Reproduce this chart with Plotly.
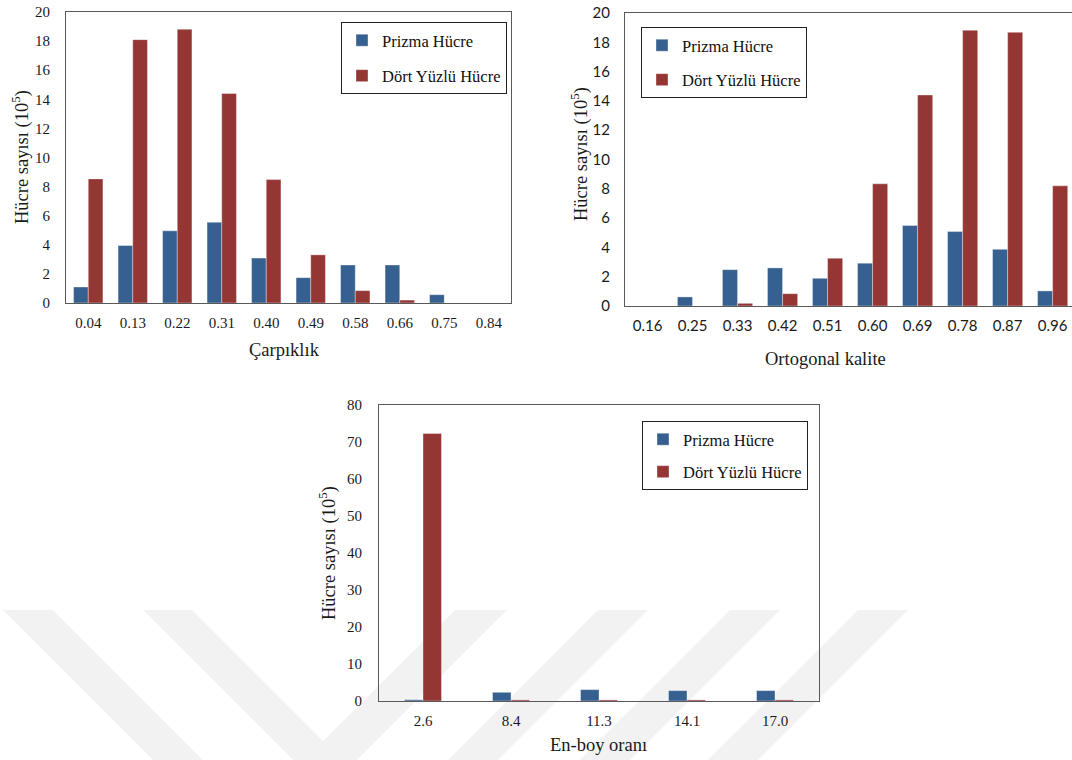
import plotly.graph_objects as go

# ---------------- data ----------------
carp_cats = ["0.04", "0.13", "0.22", "0.31", "0.40", "0.49", "0.58", "0.66", "0.75", "0.84"]
carp_prizma = [1.1, 3.95, 4.96, 5.55, 3.09, 1.74, 2.61, 2.61, 0.57, 0]
carp_dort = [8.53, 18.1, 18.81, 14.4, 8.48, 3.31, 0.85, 0.2, 0, 0]

orto_cats = ["0.16", "0.25", "0.33", "0.42", "0.51", "0.60", "0.69", "0.78", "0.87", "0.96"]
orto_prizma = [0, 0.62, 2.48, 2.6, 1.89, 2.92, 5.49, 5.08, 3.87, 1.03]
orto_dort = [0, 0, 0.18, 0.84, 3.26, 8.34, 14.4, 18.82, 18.68, 8.2]

enboy_cats = ["2.6", "8.4", "11.3", "14.1", "17.0"]
enboy_prizma = [0.35, 2.35, 3.07, 2.8, 2.8]
enboy_dort = [72.3, 0.3, 0.3, 0.3, 0.3]

series_names = ["Prizma Hücre", "Dört Yüzlü Hücre"]
y_title = "Hücre sayısı (10<sup>5</sup>)"
x_titles = ["Çarpıklık", "Ortogonal kalite", "En-boy oranı"]

# ---------------- styling ----------------
W, H = 1072, 760
BLUE = "#36608f"
RED = "#943634"
SERIF = "Liberation Serif"
SANS = "Lato"
LINE = "#595959"
TXT = "#1a1a1a"


def px(x):
    return x / W


def py(y):
    return 1 - y / H


fig = go.Figure()

charts = [
    dict(cats=carp_cats, a=carp_prizma, b=carp_dort, xa="x", ya="y", lg="legend", w=0.33),
    dict(cats=orto_cats, a=orto_prizma, b=orto_dort, xa="x2", ya="y2", lg="legend2", w=0.335),
    dict(cats=enboy_cats, a=enboy_prizma, b=enboy_dort, xa="x3", ya="y3", lg="legend3", w=0.21),
]

for i, c in enumerate(charts):
    for j, (vals, col, off) in enumerate(((c["a"], BLUE, -c["w"]), (c["b"], RED, 0))):
        fig.add_trace(go.Bar(
            x=c["cats"], y=vals, name=series_names[j],
            marker=dict(color=col, line=dict(color="rgba(255,255,255,0.45)", width=0.8)),
            width=c["w"], offset=off,
            xaxis=c["xa"], yaxis=c["ya"], legend=c["lg"],
            legendgroup=f"g{i}{j}", showlegend=True,
        ))

axis_common = dict(showline=True, linecolor=LINE, linewidth=1, showgrid=False,
                   zeroline=False, ticks="", automargin=False)

fig.update_layout(
    template="none",
    width=W, height=H,
    margin=dict(l=0, r=0, t=0, b=0),
    paper_bgcolor="white", plot_bgcolor="rgba(0,0,0,0)",
    barmode="overlay",
    font=dict(family=SERIF, color=TXT, size=15),
    # chart 1
    xaxis=dict(domain=[px(66), px(511)], anchor="y", type="category", range=[-0.5, 9.5],
               mirror=True, tickfont=dict(family=SERIF, size=15, color=TXT), ticklabelstandoff=6,
               **axis_common),
    yaxis=dict(domain=[py(303), py(12)], anchor="x", range=[0, 20], dtick=2,
               mirror=True, tickfont=dict(family=SERIF, size=15, color=TXT), ticklabelstandoff=12,
               **axis_common),
    # chart 2
    xaxis2=dict(domain=[px(625), 1.0], anchor="y2", type="category", range=[-0.5, 9.43],
                mirror=True, tickfont=dict(family=SANS, size=15, color=TXT), ticklabelstandoff=6,
                **axis_common),
    yaxis2=dict(domain=[py(306), py(13)], anchor="x2", range=[0, 20], dtick=2,
                mirror=False, tickfont=dict(family=SANS, size=15, color=TXT), ticklabelstandoff=11,
                **axis_common),
    # chart 3
    xaxis3=dict(domain=[px(379), px(819)], anchor="y3", type="category", range=[-0.5, 4.5],
                mirror=True, tickfont=dict(family=SERIF, size=15, color=TXT), ticklabelstandoff=6,
                **axis_common),
    yaxis3=dict(domain=[py(701), py(405)], anchor="x3", range=[0, 80], dtick=10,
                mirror=True, tickfont=dict(family=SERIF, size=15, color=TXT), ticklabelstandoff=13,
                **axis_common),
)

legend_common = dict(xanchor="left", yanchor="top", bgcolor="white",
                     bordercolor="#222222", borderwidth=1,
                     font=dict(family=SERIF, size=16.5, color="#111111"),
                     itemwidth=30)
fig.update_layout(
    legend=dict(x=px(341), y=py(22), tracegroupgap=11, **legend_common),
    legend2=dict(x=px(641), y=py(27), tracegroupgap=10, **legend_common),
    legend3=dict(x=px(642), y=py(421), tracegroupgap=8, **legend_common),
)

# axis titles
title_font = dict(family=SERIF, size=18.5, color=TXT)
for (xc, yc) in [(20, 157), (580, 154), (327, 553)]:
    fig.add_annotation(text=y_title, x=px(xc), y=py(yc), xref="paper", yref="paper",
                       textangle=-90, showarrow=False, font=title_font,
                       xanchor="center", yanchor="middle")
for t, (xc, yc) in zip(x_titles, [(284, 350), (825, 359), (598, 745)]):
    fig.add_annotation(text=t, x=px(xc), y=py(yc), xref="paper", yref="paper",
                       showarrow=False, font=title_font, xanchor="center", yanchor="middle")

# faint background watermark stripes
wm = "rgba(0,0,0,0.05)"
polys = [
    [(3, 610), (53, 610), (203, 760), (153, 760)],
    [(143, 610), (192, 610), (323, 741), (455, 610), (507, 610), (325, 792)],
    [(598, 610), (648, 610), (498, 760), (448, 760)],
    [(730, 610), (780, 610), (630, 760), (580, 760)],
    [(858, 610), (908, 610), (758, 760), (708, 760)],
]
for poly in polys:
    path = "M " + " L ".join(f"{px(x):.4f},{py(y):.4f}" for x, y in poly) + " Z"
    fig.add_shape(type="path", path=path, xref="paper", yref="paper",
                  fillcolor=wm, line=dict(width=0), layer="below")

fig.write_html("out.html",
               config={"displayModeBar": False},
               post_script="document.body.style.margin='0';document.body.style.overflow='hidden';")
